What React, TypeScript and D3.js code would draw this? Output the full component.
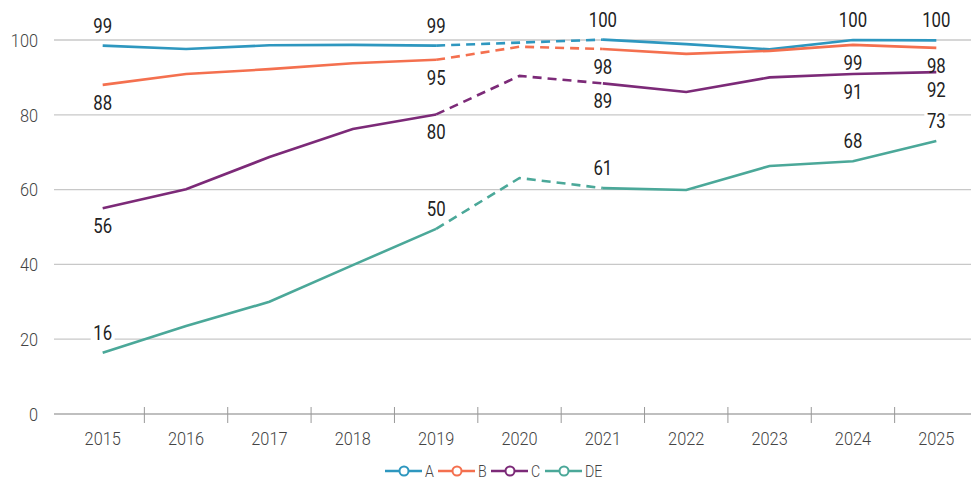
import React from "react";
import * as d3 from "d3";

const years = ["2015","2016","2017","2018","2019","2020","2021","2022","2023","2024","2025"];
const seriesA = [98.5, 97.6, 98.6, 98.7, 98.5, 99.3, 100.1, 98.9, 97.5, 100, 99.9];
const seriesB = [88.0, 90.9, 92.2, 93.8, 94.7, 98.2, 97.6, 96.3, 97.1, 98.7, 97.9];
const seriesC = [55.0, 60.1, 68.7, 76.2, 80.1, 90.4, 88.4, 86.1, 90.0, 90.9, 91.4];
const seriesDE = [16.4, 23.5, 30.0, 39.8, 49.5, 63.1, 60.4, 59.9, 66.3, 67.6, 73.0];

const labelYears = ["2015", "2019", "2021", "2024", "2025"];
const labelsA = ["99", "99", "100", "100", "100"];
const labelsB = ["88", "95", "98", "99", "98"];
const labelsC = ["56", "80", "89", "91", "92"];
const labelsDE = ["16", "50", "61", "68", "73"];

const seriesNames = ["A", "B", "C", "DE"];
const yTicks = [0, 20, 40, 60, 80, 100];
const dashedFrom = "2019";
const dashedTo = "2021";

const colors = ["#2E97BF", "#F4704F", "#7C2A78", "#4BA899"];
const labelPos = ["above", "below", "below", "above"];

const W = 971;
const H = 482;
const FONT = "Roboto, 'Noto Sans', sans-serif";
const SX = 0.86;

function Txt(props: {
  x: number;
  y: number;
  size: number;
  fill: string;
  anchor?: string;
  weight?: number;
  children: React.ReactNode;
}) {
  return (
    <text
      transform={`translate(${props.x},${props.y}) scale(${SX},1)`}
      dy="0.36em"
      textAnchor={props.anchor || "middle"}
      fontSize={props.size}
      fontWeight={props.weight || 400}
      fill={props.fill}
    >
      {props.children}
    </text>
  );
}

export default function App() {
  const x = d3.scaleBand<string>().domain(years).range([61, 978]).padding(0);
  const y = d3.scaleLinear().domain([0, 100]).range([414, 40]);
  const cx = (yr: string) => (x(yr) as number) + x.bandwidth() / 2;

  const allSeries = [seriesA, seriesB, seriesC, seriesDE];
  const allLabels = [labelsA, labelsB, labelsC, labelsDE];

  const line = d3
    .line<[string, number]>()
    .x((d) => cx(d[0]))
    .y((d) => y(d[1]));

  const i0 = years.indexOf(dashedFrom);
  const i1 = years.indexOf(dashedTo);

  const labelItems: { x: number; y: number; text: string }[] = [];
  allSeries.forEach((s, si) => {
    labelYears.forEach((yr, li) => {
      const idx = years.indexOf(yr);
      const px = cx(yr);
      const py = y(s[idx]);
      const ly = labelPos[si] === "above" ? py - 20 : py + 18;
      labelItems.push({ x: px, y: ly, text: allLabels[si][li] });
    });
  });

  const legendStarts = [385, 438, 491, 545];
  const legendY = 471;

  return (
    <svg
      width={W}
      height={H}
      style={{ position: "absolute", left: 0, top: 0, background: "#fff" }}
      fontFamily={FONT}
    >
      {yTicks.map((t) => (
        <g key={t}>
          <line
            x1={54}
            x2={W}
            y1={y(t)}
            y2={y(t)}
            stroke={t === 0 ? "#bfbfbf" : "#c8c8c8"}
            strokeWidth={t === 0 ? 2 : 1.3}
          />
          <Txt x={38} y={y(t)} size={19} fill="#444" anchor="end" weight={300}>
            {t}
          </Txt>
        </g>
      ))}
      {years.slice(1).map((yr) => (
        <line
          key={"tk" + yr}
          x1={x(yr) as number}
          x2={x(yr) as number}
          y1={407}
          y2={423}
          stroke="#999"
          strokeWidth={1}
        />
      ))}
      {years.map((yr) => (
        <Txt key={"xl" + yr} x={cx(yr)} y={438} size={19} fill="#444" weight={300}>
          {yr}
        </Txt>
      ))}
      {labelItems.map((l, i) => (
        <rect
          key={"lb" + i}
          x={l.x - l.text.length * 5 - 2}
          y={l.y - 10}
          width={l.text.length * 10 + 4}
          height={20}
          fill="#fff"
        />
      ))}
      {allSeries.map((s, si) => {
        const pts: [string, number][] = years.map((yr, i) => [yr, s[i]]);
        return (
          <g key={"s" + si} fill="none" stroke={colors[si]} strokeWidth={2.6}>
            <path d={line(pts.slice(0, i0 + 1)) || ""} />
            <path d={line(pts.slice(i0, i1 + 1)) || ""} strokeDasharray="9 6" />
            <path d={line(pts.slice(i1)) || ""} />
          </g>
        );
      })}
      {labelItems.map((l, i) => (
        <Txt key={"lt" + i} x={l.x} y={l.y} size={19.5} fill="#222" weight={400}>
          {l.text}
        </Txt>
      ))}
      {seriesNames.map((n, i) => {
        const sx = legendStarts[i];
        return (
          <g key={"lg" + n}>
            <line x1={sx} x2={sx + 37} y1={legendY} y2={legendY} stroke={colors[i]} strokeWidth={2.6} />
            <circle cx={sx + 19} cy={legendY} r={4.5} fill="#fff" stroke={colors[i]} strokeWidth={2} />
            <Txt x={sx + 40} y={legendY} size={16.5} fill="#444" anchor="start" weight={300}>
              {n}
            </Txt>
          </g>
        );
      })}
    </svg>
  );
}
